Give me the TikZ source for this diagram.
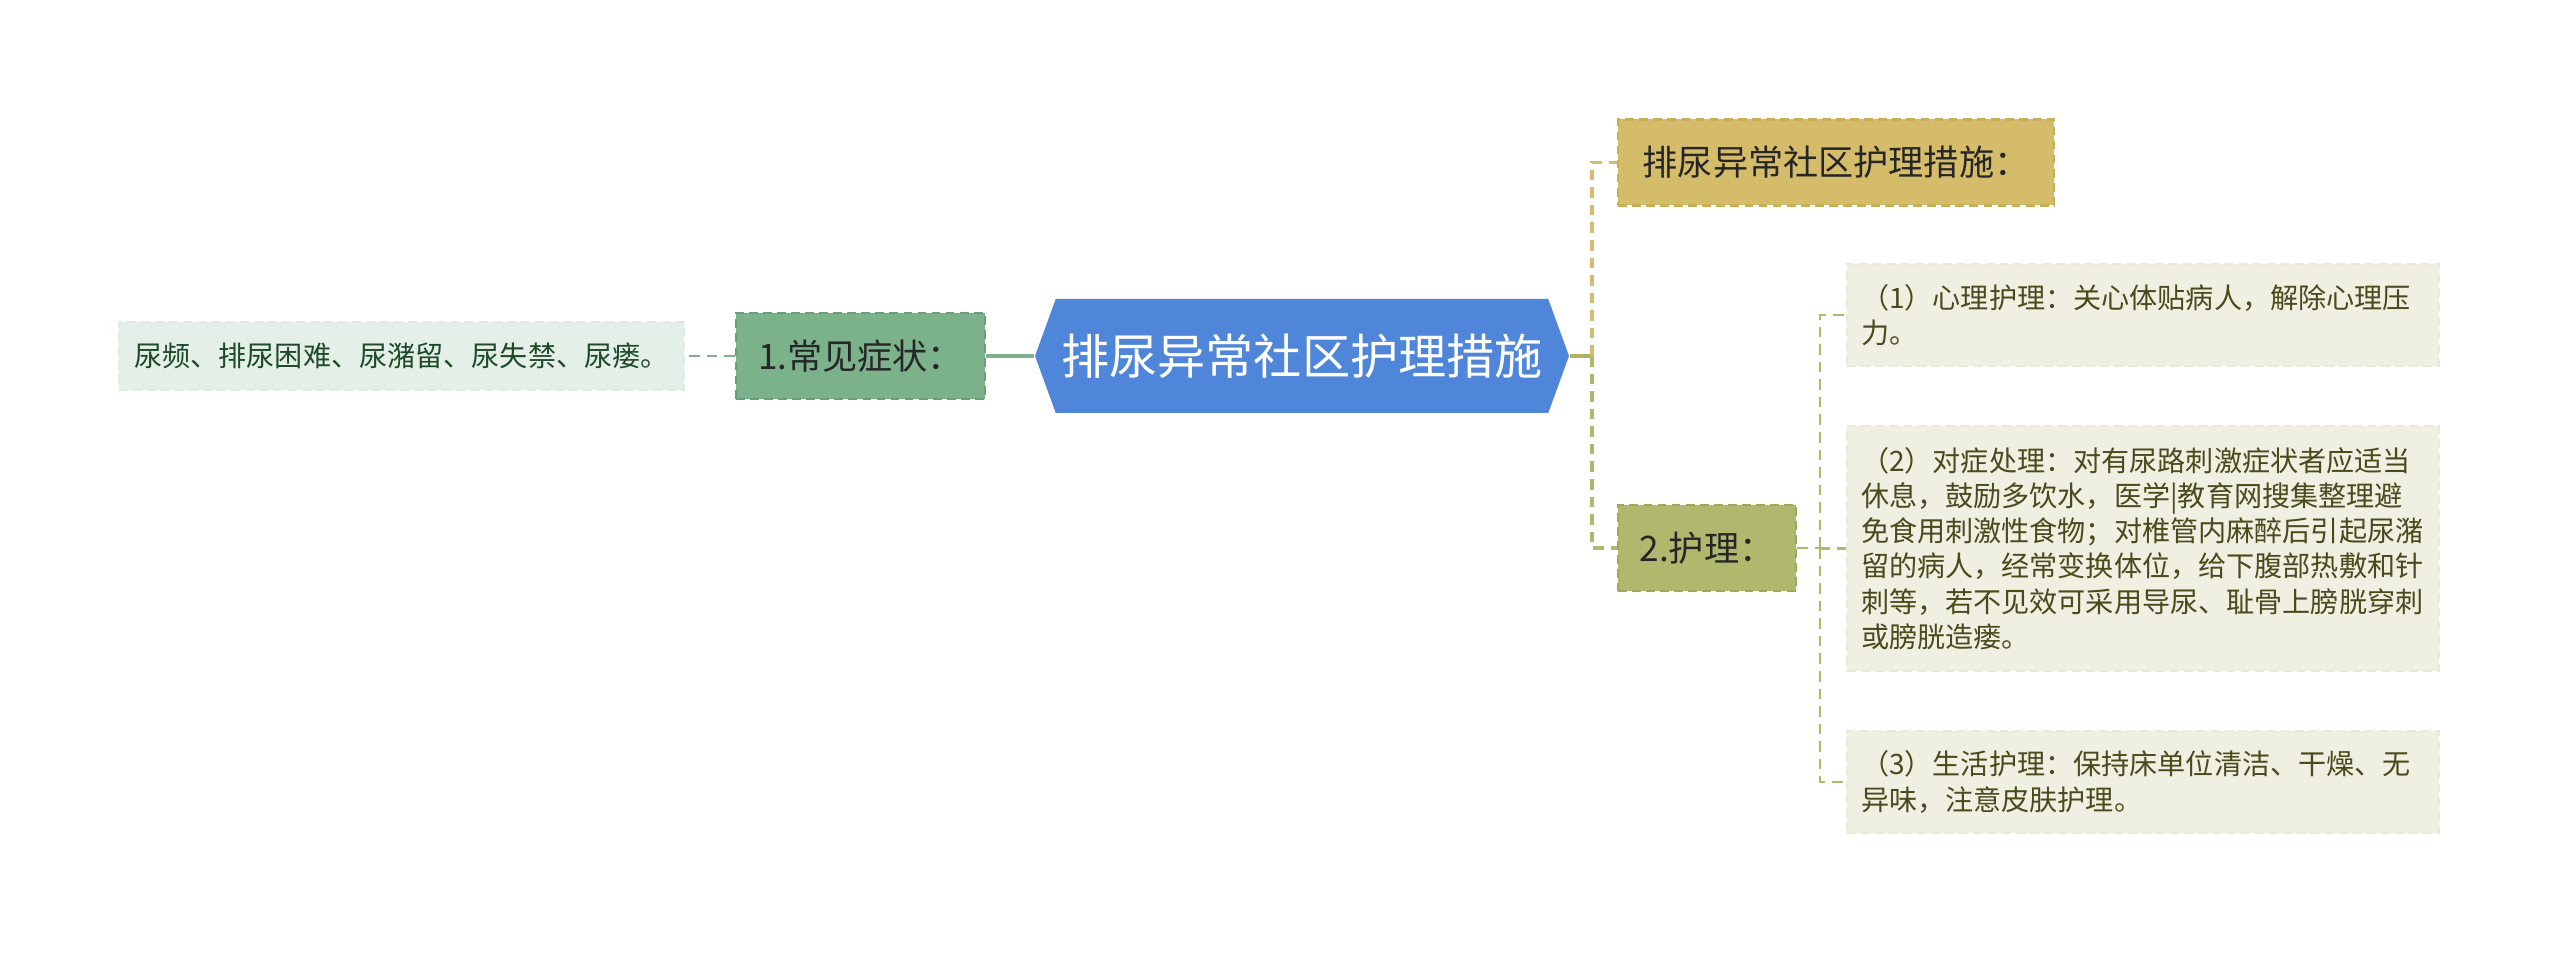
\documentclass[tikz,border=0pt]{standalone}
\usepackage{fontspec}
\setmainfont{Noto Sans CJK SC}
\usepackage{tikz}
\usepackage{xcolor}
\usetikzlibrary{shapes.symbols}

\definecolor{hubblue}{HTML}{4F86DA}
\definecolor{goldfill}{HTML}{D5BC6B}
\definecolor{goldline}{HTML}{C9AE55}
\definecolor{symfill}{HTML}{7BB28B}
\definecolor{symline}{HTML}{66A077}
\definecolor{olivefill}{HTML}{AFB86C}
\definecolor{oliveline}{HTML}{9DA85A}
\definecolor{sleaffill}{HTML}{E4EFE8}
\definecolor{sleaftext}{HTML}{1E4A2A}
\definecolor{rleaffill}{HTML}{EFEFE2}
\definecolor{rleafline}{HTML}{E9E9DA}
\definecolor{rleaftext}{HTML}{4A4A1C}

\begin{document}
\begin{tikzpicture}
  \tikzset{hub/.style = {shape=signal,signal to=west and east,signal pointer angle=140,fill=hubblue,text=white,minimum width=5.34cm,minimum height=1.14cm,inner sep=0pt,font=\fontsize{13.7pt}{16pt}\selectfont}}
  \tikzset{branch/.style = {shape=rectangle,dash pattern=on 2.5pt off 1.5pt,line width=0.6pt,minimum height=0.86cm,inner sep=0pt,text=black!85,font=\fontsize{10pt}{12pt}\selectfont}}
  \tikzset{leaf/.style = {shape=rectangle,dash pattern=on 2.5pt off 1.5pt,line width=0.5pt,inner xsep=0.14cm,inner ysep=0pt,align=left,font=\fontsize{8pt}{10pt}\selectfont}}
  \tikzset{link/.style = {line width=0.9pt,dash pattern=on 3pt off 2pt}}

  \useasboundingbox (0,0) rectangle (25.6,9.54);

	\node[hub] (hub) at (13.02,5.98) {排尿异常社区护理措施};

	\node[branch,fill=symfill,draw=symline,minimum width=2.49cm] (sym) at (8.605,5.98) {1.常见症状：};
	\node[leaf,fill=sleaffill,draw=sleaffill!93!symfill,text=sleaftext,minimum width=5.65cm,minimum height=0.68cm,align=center] (symleaf) at (4.015,5.98) {尿频、排尿困难、尿潴留、尿失禁、尿瘘。};

	\node[branch,fill=goldfill,draw=goldline,minimum width=4.36cm] (gold) at (18.36,7.915) {排尿异常社区护理措施：};
	\node[branch,fill=olivefill,draw=oliveline,minimum width=1.78cm] (care) at (17.07,4.06) {2.护理：};

		\node[leaf,fill=rleaffill,draw=rleafline,text=rleaftext,text width=5.64cm,minimum height=1.02cm] (c1) at (21.43,6.39) {（1）心理护理：关心体贴病人，解除心理压\\力。};
		\node[leaf,fill=rleaffill,draw=rleafline,text=rleaftext,text width=5.64cm,minimum height=2.45cm] (c2) at (21.43,4.055) {（2）对症处理：对有尿路刺激症状者应适当\\休息，鼓励多饮水，医学|教育网搜集整理避\\免食用刺激性食物；对椎管内麻醉后引起尿潴\\留的病人，经常变换体位，给下腹部热敷和针\\刺等，若不见效可采用导尿、耻骨上膀胱穿刺\\或膀胱造瘘。};
		\node[leaf,fill=rleaffill,draw=rleafline,text=rleaftext,text width=5.64cm,minimum height=1.02cm] (c3) at (21.43,1.72) {（3）生活护理：保持床单位清洁、干燥、无\\异味，注意皮肤护理。};

  \coordinate (jr) at (15.92,5.98);
  \coordinate (jc) at (18.20,4.06);

    \draw[symfill,line width=1.4pt] (hub.west) -- (sym.east);
    \draw[symfill,link,line width=0.8pt] (sym.west) -- (symleaf.east);
    \draw[oliveline!60!goldfill,line width=1.4pt] (hub.east) -- (jr);
    \draw[goldfill,link] (jr) |- (gold.west);
    \draw[olivefill,link] (jr) |- (care.west);
    \draw[olivefill,link,line width=0.7pt] (care.east) -- (jc);
    \foreach \to in {c1,c2,c3}
    \draw[olivefill,link,line width=0.7pt] (jc) |- (\to.west);

\end{tikzpicture}
\end{document}
